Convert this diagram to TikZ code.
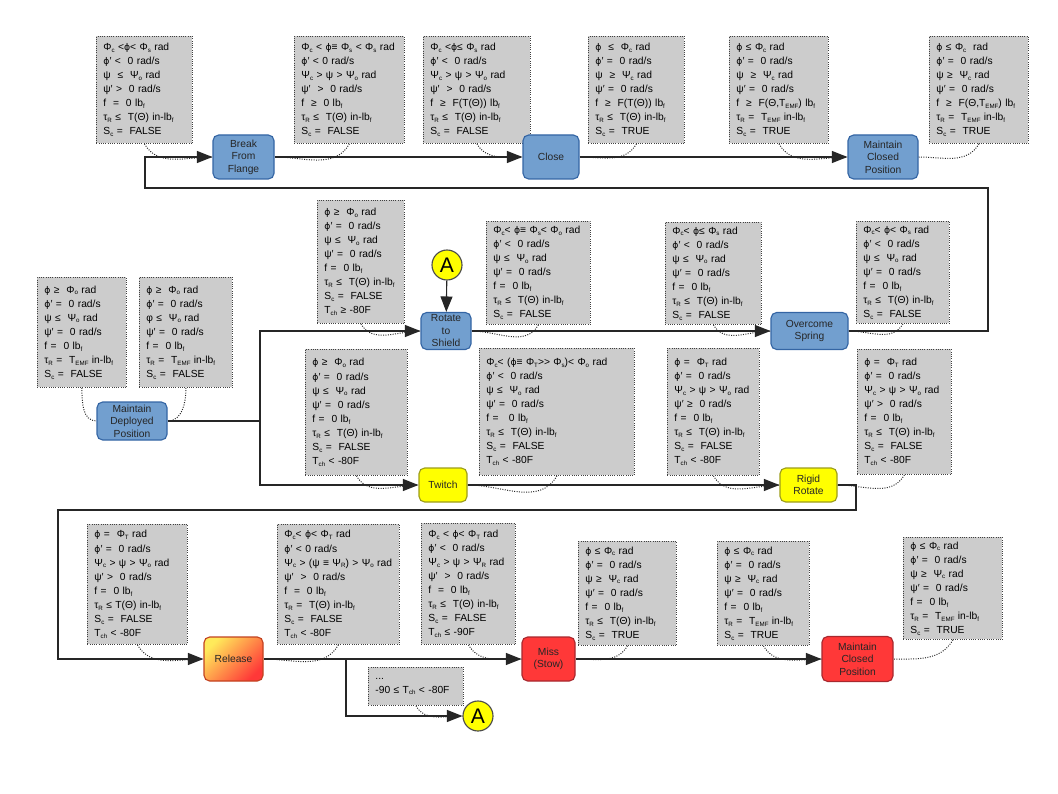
\documentclass[tikz,border=0pt]{standalone}
\usepackage{fontspec}
\setmainfont{Liberation Sans}
\newfontfamily\dvfont[Scale=0.9]{DejaVu Sans}
\usetikzlibrary{arrows.meta,shapes.geometric}
\definecolor{condgray}{HTML}{CCCCCC}
\definecolor{stateblue}{HTML}{729FCF}
\definecolor{statebluedraw}{HTML}{3465A4}
\definecolor{stateyellow}{HTML}{FFFF00}
\definecolor{stateyellowdraw}{HTML}{9C9C1A}
\definecolor{statered}{HTML}{FF3838}
\definecolor{stateredraw}{HTML}{A8282E}
\definecolor{releaseyellow}{HTML}{FFEA5A}
\newcommand\sub[1]{\raisebox{-1.3pt}{\fontsize{4.4}{4}\selectfont #1}}
\newcommand\fii{{\dvfont ϕ}}
\newcommand\condfont{\fontsize{7.3}{10}\selectfont}
\newcommand\statefont{\fontsize{7.3}{8.9}\selectfont}
\tikzset{
  cond/.style 2 args={draw=black!75, densely dotted, line width=0.6pt, fill=condgray,
    anchor=north west, align=left, inner xsep=0.175cm, inner ysep=2pt,
    text width={(#1-14)*0.025cm}, minimum height={#2*0.025cm}, font=\condfont},
  state/.style 2 args={rounded corners=4pt, line width=0.8pt, align=center, font=\statefont,
    text=black!85, inner sep=1pt, minimum width={#1*0.025cm}, minimum height={#2*0.025cm}},
  bluestate/.style={fill=stateblue, draw=statebluedraw},
  yellowstate/.style={fill=stateyellow, draw=stateyellowdraw},
  redstate/.style={fill=statered, draw=stateredraw},
  releasestate/.style={top color=releaseyellow, bottom color=statered, shading angle=45, draw=stateredraw!70!orange},
  joint/.style={circle, draw=black!70, fill=stateyellow, line width=0.8pt, inner sep=0pt,
    minimum size=0.75cm, font=\fontsize{15}{15}\selectfont},
  conn/.style={draw=black!85, line width=0.8pt, -{Triangle[length=11pt,width=8.5pt]}},
  wire/.style={draw=black!85, line width=0.8pt},
  note/.style={draw=black!85, densely dotted, line width=0.7pt}
}

\begin{document}
\begin{tikzpicture}[x=0.025cm, y=-0.025cm]
			%%%%% START %%%%%
			\useasboundingbox (0,0) rectangle (1058,794);

			% top row
			\node[cond={96}{107}] (c1) at (96,36) {Φ\sub{c} <\fii< Φ\sub{s} rad\\ \fii′ <~ 0 rad/s\\ ψ~ ≤~ Ψ\sub{o} rad\\ ψ′ >~ 0 rad/s\\ f~ =~ 0 lb\sub{f}\\ τ\sub{R} ≤~ T(Θ) in-lb\sub{f}\\ S\sub{c} =~ FALSE};
			\node[cond={110}{107}] (c2) at (294,36) {Φ\sub{c} < \fii ≡ Φ\sub{s} < Φ\sub{s} rad\\ \fii′ < 0 rad/s\\ Ψ\sub{c} > ψ > Ψ\sub{o} rad\\ ψ′~ >~ 0 rad/s\\ f~ ≥~ 0 lb\sub{f}\\ τ\sub{R} ≤~ T(Θ) in-lb\sub{f}\\ S\sub{c} =~ FALSE};
			\node[cond={107}{107}] (c3) at (423,36) {Φ\sub{c} <\fii≤ Φ\sub{s} rad\\ \fii′ <~ 0 rad/s\\ Ψ\sub{c} > ψ > Ψ\sub{o} rad\\ ψ′~ >~ 0 rad/s\\ f~ ≥~ F(T(Θ)) lb\sub{f}\\ τ\sub{R} ≤~ T(Θ) in-lb\sub{f}\\ S\sub{c} =~ FALSE};
			\node[cond={96}{107}] (c4) at (588,36) {\fii~ ≤~ Φ\sub{c} rad\\ \fii′ =~ 0 rad/s\\ ψ~ ≥~ Ψ\sub{c} rad\\ ψ′ =~ 0 rad/s\\ f~ ≥~ F(T(Θ)) lb\sub{f}\\ τ\sub{R} ≤~ T(Θ) in-lb\sub{f}\\ S\sub{c} =~ TRUE};
			\node[cond={99}{107}] (c5) at (729,36) {\fii{} ≤ Φ\sub{c} rad\\ \fii′ =~ 0 rad/s\\ ψ~ ≥~ Ψ\sub{c} rad\\ ψ′ =~ 0 rad/s\\ f~ ≥~ F(Θ,T\sub{EMF}) lb\sub{f}\\ τ\sub{R} =~ T\sub{EMF} in-lb\sub{f}\\ S\sub{c} =~ TRUE};
			\node[cond={99}{107}] (c6) at (929,36) {\fii{} ≤ Φ\sub{c}~ rad\\ \fii′ =~ 0 rad/s\\ ψ ≥~ Ψ\sub{c} rad\\ ψ′ =~ 0 rad/s\\ f~ ≥~ F(Θ,T\sub{EMF}) lb\sub{f}\\ τ\sub{R} =~ T\sub{EMF} in-lb\sub{f}\\ S\sub{c} =~ TRUE};

			\node[state={61}{44}, bluestate] (brk) at (243.5,157) {Break\\From\\Flange};
			\node[state={56}{44}, bluestate] (close) at (551,157) {Close};
			\node[state={70}{44}, bluestate] (mcpa) at (883,157) {Maintain\\Closed\\Position};

			% middle rows
			\node[cond={89}{110}] (d1) at (37,277) {\fii{} ≥~ Φ\sub{o} rad\\ \fii′ =~ 0 rad/s\\ ψ ≤~ Ψ\sub{o} rad\\ ψ′ =~ 0 rad/s\\ f =~ 0 lb\sub{f}\\ τ\sub{R} =~ T\sub{EMF} in-lb\sub{f}\\ S\sub{c} =~ FALSE};
			\node[cond={93}{110}] (d2) at (139,277) {\fii{} ≥~ Φ\sub{o} rad\\ \fii′ =~ 0 rad/s\\ φ ≤~ Ψ\sub{o} rad\\ ψ′ =~ 0 rad/s\\ f =~ 0 lb\sub{f}\\ τ\sub{R} =~ T\sub{EMF} in-lb\sub{f}\\ S\sub{c} =~ FALSE};
			\node[state={70}{38}, bluestate] (mdp) at (132,421) {Maintain\\Deployed\\Position};

			\node[cond={87}{123}] (r1) at (317,200) {\fii{} ≥~ Φ\sub{o} rad\\ \fii′ =~ 0 rad/s\\ ψ ≤~ Ψ\sub{o} rad\\ ψ′ =~ 0 rad/s\\ f =~ 0 lb\sub{f}\\ τ\sub{R} ≤~ T(Θ) in-lb\sub{f}\\ S\sub{c} =~ FALSE\\ T\sub{ch} ≥ -80F};
			\node[cond={104}{103}] (r2) at (486,221) {Φ\sub{c}< \fii≡ Φ\sub{s}< Φ\sub{o} rad\\ \fii′ <~ 0 rad/s\\ ψ ≤~ Ψ\sub{o} rad\\ ψ′ =~ 0 rad/s\\ f =~ 0 lb\sub{f}\\ τ\sub{R} ≤~ T(Θ) in-lb\sub{f}\\ S\sub{c} =~ FALSE};
			\node[cond={96}{102}] (r3) at (665,222) {Φ\sub{c}< \fii≤ Φ\sub{s} rad\\ \fii′ <~ 0 rad/s\\ ψ ≤~ Ψ\sub{o} rad\\ ψ′ =~ 0 rad/s\\ f =~ 0 lb\sub{f}\\ τ\sub{R} ≤~ T(Θ) in-lb\sub{f}\\ S\sub{c} =~ FALSE};
			\node[cond={93}{102}] (r4) at (856,221) {Φ\sub{c}< \fii< Φ\sub{s} rad\\ \fii′ <~ 0 rad/s\\ ψ ≤~ Ψ\sub{o} rad\\ ψ′ =~ 0 rad/s\\ f =~ 0 lb\sub{f}\\ τ\sub{R} ≤~ T(Θ) in-lb\sub{f}\\ S\sub{c} =~ FALSE};

			\node[joint] (ja) at (447,265) {A};
			\node[state={50}{37}, bluestate] (rot) at (446,331) {Rotate\\to\\Shield};
			\node[state={77}{37}, bluestate] (osp) at (809.5,331) {Overcome\\Spring};

			\node[cond={102}{126}] (t1) at (305,349) {\fii{} ≥~ Φ\sub{o} rad\\ \fii′ =~ 0 rad/s\\ ψ ≤~ Ψ\sub{o} rad\\ ψ′ =~ 0 rad/s\\ f =~ 0 lb\sub{f}\\ τ\sub{R} ≤~ T(Θ) in-lb\sub{f}\\ S\sub{c} =~ FALSE\\ T\sub{ch} < -80F};
			\node[cond={155}{127}] (t2) at (479,348) {Φ\sub{c}< (\fii≡ Φ\sub{T}>{}> Φ\sub{s})< Φ\sub{o} rad\\ \fii′ <~ 0 rad/s\\ ψ ≤~ Ψ\sub{o} rad\\ ψ′ =~ 0 rad/s\\ f =~~ 0 lb\sub{f}\\ τ\sub{R} ≤~ T(Θ) in-lb\sub{f}\\ S\sub{c} =~ FALSE\\ T\sub{ch} < -80F};
			\node[cond={92}{127}] (t3) at (667,348) {\fii{} =~ Φ\sub{T} rad\\ \fii′ =~ 0 rad/s\\ Ψ\sub{c} > ψ > Ψ\sub{o} rad\\ ψ′ ≥~ 0 rad/s\\ f =~ 0 lb\sub{f}\\ τ\sub{R} ≤~ T(Θ) in-lb\sub{f}\\ S\sub{c} =~ FALSE\\ T\sub{ch} < -80F};
			\node[cond={94}{125}] (t4) at (857,349) {\fii{} =~ Φ\sub{T} rad\\ \fii′ =~ 0 rad/s\\ Ψ\sub{c} > ψ > Ψ\sub{o} rad\\ ψ′ >~ 0 rad/s\\ f =~ 0 lb\sub{f}\\ τ\sub{R} ≤~ T(Θ) in-lb\sub{f}\\ S\sub{c} =~ FALSE\\ T\sub{ch} < -80F};

			\node[state={48}{34}, yellowstate] (tw) at (443,485) {Twitch};
			\node[state={57}{34}, yellowstate] (rr) at (808.5,485) {Rigid\\Rotate};

			% bottom row
			\node[cond={100}{120}] (s1) at (87,524) {\fii{} =~ Φ\sub{T} rad\\ \fii′ =~ 0 rad/s\\ Ψ\sub{c} > ψ > Ψ\sub{o} rad\\ ψ′ >~ 0 rad/s\\ f =~ 0 lb\sub{f}\\ τ\sub{R} ≤ T(Θ) in-lb\sub{f}\\ S\sub{c} =~ FALSE\\ T\sub{ch} < -80F};
			\node[cond={122}{120}] (s2) at (277,524) {Φ\sub{c}< \fii< Φ\sub{T} rad\\ \fii′ < 0 rad/s\\ Ψ\sub{c} > (ψ ≡ Ψ\sub{R}) > Ψ\sub{o} rad\\ ψ′~ >~ 0 rad/s\\ f~ =~ 0 lb\sub{f}\\ τ\sub{R} =~ T(Θ) in-lb\sub{f}\\ S\sub{c} =~ FALSE\\ T\sub{ch} < -80F};
			\node[cond={94}{121}] (s3) at (421,523) {Φ\sub{c} < \fii< Φ\sub{T} rad\\ \fii′ <~ 0 rad/s\\ Ψ\sub{c} > ψ > Ψ\sub{R} rad\\ ψ′~ >~ 0 rad/s\\ f~ =~ 0 lb\sub{f}\\ τ\sub{R} ≤~ T(Θ) in-lb\sub{f}\\ S\sub{c} =~ FALSE\\ T\sub{ch} ≤ -90F};
			\node[cond={98}{104}] (s4) at (578,541) {\fii{} ≤ Φ\sub{c} rad\\ \fii′ =~ 0 rad/s\\ ψ ≥~ Ψ\sub{c} rad\\ ψ′ =~ 0 rad/s\\ f =~ 0 lb\sub{f}\\ τ\sub{R} ≤~ T(Θ) in-lb\sub{f}\\ S\sub{c} =~ TRUE};
			\node[cond={92}{104}] (s5) at (717,541) {\fii{} ≤ Φ\sub{c} rad\\ \fii′ =~ 0 rad/s\\ ψ ≥~ Ψ\sub{c} rad\\ ψ′ =~ 0 rad/s\\ f =~ 0 lb\sub{f}\\ τ\sub{R} =~ T\sub{EMF} in-lb\sub{f}\\ S\sub{c} =~ TRUE};
			\node[cond={99}{102}] (s6) at (903,537) {\fii{} ≤ Φ\sub{c} rad\\ \fii′ =~ 0 rad/s\\ ψ ≥~ Ψ\sub{c} rad\\ ψ′ =~ 0 rad/s\\ f =~ 0 lb\sub{f}\\ τ\sub{R} =~ T\sub{EMF} in-lb\sub{f}\\ S\sub{c} =~ TRUE};
			\node[cond={95}{38}] (s7) at (368,667) {...\\ -90 ≤ T\sub{ch} < -80F};

			\node[state={59}{44}, releasestate] (rel) at (233.5,659) {Release};
			\node[state={53}{44}, redstate] (miss) at (548.5,659) {Miss\\(Stow)};
			\node[state={71}{45}, redstate] (mcpb) at (857.5,659) {Maintain\\Closed\\Position};
			\node[joint] (jb) at (478,716) {A};

			% dotted ties from the condition boxes
			\draw[note] (c1.south) to[out=-60, in=180] (brk.west);
			\draw[note] (c2.south) to[out=-120, in=0] (brk.east);
			\draw[note] (c3.south) to[out=-60, in=180] (close.west);
			\draw[note] (c4.south) to[out=-120, in=0] (close.east);
			\draw[note] (c5.south) to[out=-60, in=180] (mcpa.west);
			\draw[note] (c6.south) to[out=-120, in=0] (mcpa.east);
			\draw[note] (d1.south) to[out=-90, in=180] (mdp.west);
			\draw[note] (d2.south) to[out=-90, in=0] (mdp.east);
			\draw[note] (r1.south) to[out=-60, in=180] (rot.west);
			\draw[note] (r2.south) to[out=-120, in=0] (rot.east);
			\draw[note] (r3.south) to[out=-60, in=180] (osp.west);
			\draw[note] (r4.south) to[out=-120, in=0] (osp.east);
			\draw[note] (t1.south) to[out=-60, in=180] (tw.west);
			\draw[note] (t2.south) to[out=-120, in=0] (tw.east);
			\draw[note] (t3.south) to[out=-60, in=180] (rr.west);
			\draw[note] (t4.south) to[out=-120, in=0] (rr.east);
			\draw[note] (s1.south) to[out=-60, in=180] (rel.west);
			\draw[note] (s2.south) to[out=-120, in=0] (rel.east);
			\draw[note] (s3.south) to[out=-60, in=180] (miss.west);
			\draw[note] (s4.south) to[out=-120, in=0] (miss.east);
			\draw[note] (s5.south) to[out=-60, in=180] (mcpb.west);
			\draw[note] (s6.south) to[out=-120, in=0] (mcpb.east);
			\draw[note] (s7.south) to[out=-60, in=180] (jb.west);

			% connectors
			\draw[conn] (brk) -- (close);
			\draw[conn] (close) -- (mcpa);
			\draw[conn] (osp.east) -- (988,331) |- (145,188) |- (brk.west);

			\coordinate (split) at (260,421);
			\draw[wire] (mdp.east) -- (split);
			\draw[conn] (split) |- (rot.west);
			\draw[conn] (split) |- (tw.west);
			\draw[conn] (ja) -- (rot);
			\draw[conn] (rot) -- (osp);
			\draw[conn] (tw) -- (rr);
			\draw[conn] (rr.east) -- (856,485) |- (58,510) |- (rel.west);

			\coordinate (fork) at (346,659);
			\draw[conn] (rel) -- (miss);
			\draw[conn] (fork) |- (jb.west);
			\draw[conn] (miss) -- (mcpb);
			%%%%% END %%%%%
\end{tikzpicture}
\end{document}
